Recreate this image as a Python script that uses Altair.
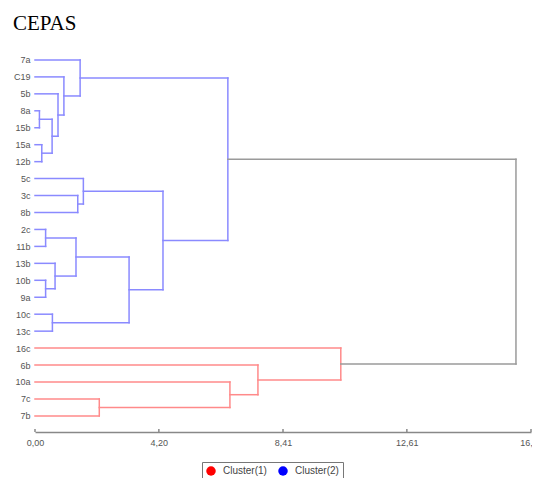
import altair as alt
import pandas as pd

title_text = ["CEPAS"]

# Leaves, top to bottom
leaves = ["7a", "C19", "5b", "8a", "15b", "15a", "12b", "5c", "3c", "8b", "2c",
          "11b", "13b", "10b", "9a", "10c", "13c", "16c", "6b", "10a", "7c", "7b"]
leaf_cluster = ["Cluster(2)"] * 17 + ["Cluster(1)"] * 5

# Merges: node, left child, right child, height, cluster
merge_node = ["n1", "n2", "n3", "n4", "n5", "n6", "n7", "n8", "n9", "n10", "n11",
              "n12", "n13", "n14", "n15", "n16", "n17", "n18", "n19", "n20", "n21"]
merge_left = ["8a", "15a", "n1", "5b", "C19", "7a", "3c", "5c", "2c", "10b", "13b",
              "n9", "10c", "n12", "n8", "n6", "7c", "10a", "6b", "16c", "n16"]
merge_right = ["15b", "12b", "n2", "n3", "n4", "n5", "8b", "n7", "11b", "9a", "n10",
               "n11", "13c", "n13", "n14", "n15", "7b", "n17", "n18", "n19", "n20"]
merge_height = [0.15, 0.23, 0.58, 0.78, 0.98, 1.53, 1.45, 1.64, 0.36, 0.36, 0.68,
                1.39, 0.59, 3.19, 4.34, 6.54, 2.18, 6.61, 7.56, 10.37, 16.31]
merge_cluster = ["Cluster(2)"] * 16 + ["Cluster(1)"] * 4 + ["root"]

tick_values = [0, 4.2, 8.41, 12.61, 16.82]

# Build segments
pos = {name: (0.0, float(i)) for i, name in enumerate(leaves)}
rows = []
for node, l, r, h, c in zip(merge_node, merge_left, merge_right, merge_height, merge_cluster):
    hl, yl = pos[l]
    hr, yr = pos[r]
    rows.append(dict(x=hl, x2=h, y=yl, y2=yl, cluster=c))
    rows.append(dict(x=hr, x2=h, y=yr, y2=yr, cluster=c))
    rows.append(dict(x=h, x2=h, y=yl, y2=yr, cluster=c))
    pos[node] = (h, (yl + yr) / 2)
seg = pd.DataFrame(rows)

leaf_df = pd.DataFrame({"idx": list(range(len(leaves))), "name": leaves, "cluster": leaf_cluster})
tick_df = pd.DataFrame({"v": tick_values})
title_df = pd.DataFrame({"t": title_text})

W, H = 496, 389
xscale = alt.Scale(domain=[0, 16.82], nice=False, zero=True)
yscale = alt.Scale(domain=[-1, 21.95], reverse=True, nice=False, zero=False)

names_expr = "[" + ",".join("'" + n + "'" for n in leaves) + "][datum.value]"

xaxis = alt.Axis(values=tick_values, title=None, grid=False, ticks=False,
                 labelExpr="replace(format(datum.value,'.2f'),'.',',')",
                 labelFlush=False, labelOverlap=False, labelFontSize=9,
                 labelColor="#555", labelFont="Liberation Sans", labelPadding=6,
                 domainColor="#888", domainWidth=1.5)
yaxis = alt.Axis(values=list(range(len(leaves))), labelExpr=names_expr,
                 labelOverlap=False, title=None, grid=False, ticks=False,
                 domain=False, labelFontSize=9, labelColor="#555",
                 labelFont="Liberation Sans", labelPadding=5)

lines = alt.Chart(seg).mark_rule(strokeWidth=1.5, strokeCap="square").encode(
    x=alt.X("x:Q", scale=xscale, axis=xaxis),
    x2="x2:Q",
    y=alt.Y("y:Q", scale=yscale, axis=yaxis),
    y2="y2:Q",
    stroke=alt.Stroke("cluster:N",
                      scale=alt.Scale(domain=["Cluster(1)", "Cluster(2)", "root"],
                                      range=["#ff8a8a", "#8a8aff", "#9a9a9a"]),
                      legend=None),
)

ticks = alt.Chart(tick_df).mark_rule(color="#888", strokeWidth=1.5).encode(
    x=alt.X("v:Q", scale=xscale, axis=xaxis),
    y=alt.value(H - 3),
    y2=alt.value(H),
)

legend_pts = alt.Chart(leaf_df).mark_point(filled=True, opacity=0).encode(
    x=alt.X("idx:Q", scale=xscale, axis=xaxis),
    y=alt.Y("idx:Q", scale=yscale, axis=yaxis),
    fill=alt.Fill("cluster:N",
                  scale=alt.Scale(domain=["Cluster(1)", "Cluster(2)"], range=["#ff0000", "#0000ff"]),
                  legend=alt.Legend(title=None, orient="none", legendX=167, legendY=419,
                                    direction="horizontal", symbolOpacity=1, symbolType="circle",
                                    symbolSize=90, symbolStrokeWidth=0, strokeColor="#777",
                                    fillColor="white", padding=4, labelFontSize=10,
                                    labelFont="Liberation Sans", labelColor="#444",
                                    labelOffset=7, columnPadding=11)),
)

title_mark = alt.Chart(title_df).mark_text(
    font="Liberation Serif", fontSize=21, color="black", align="left", baseline="alphabetic"
).encode(
    text="t:N",
    x=alt.value(-22),
    y=alt.value(-13),
)

chart = alt.layer(lines, ticks, legend_pts, title_mark).properties(
    width=W, height=H,
    autosize=alt.AutoSizeParams(type="none"),
    padding={"left": 27, "top": 35, "right": 1, "bottom": 46},
    background="white",
).configure_view(stroke=None)

chart.save("out.html", embed_options={"renderer": "svg", "actions": False})
